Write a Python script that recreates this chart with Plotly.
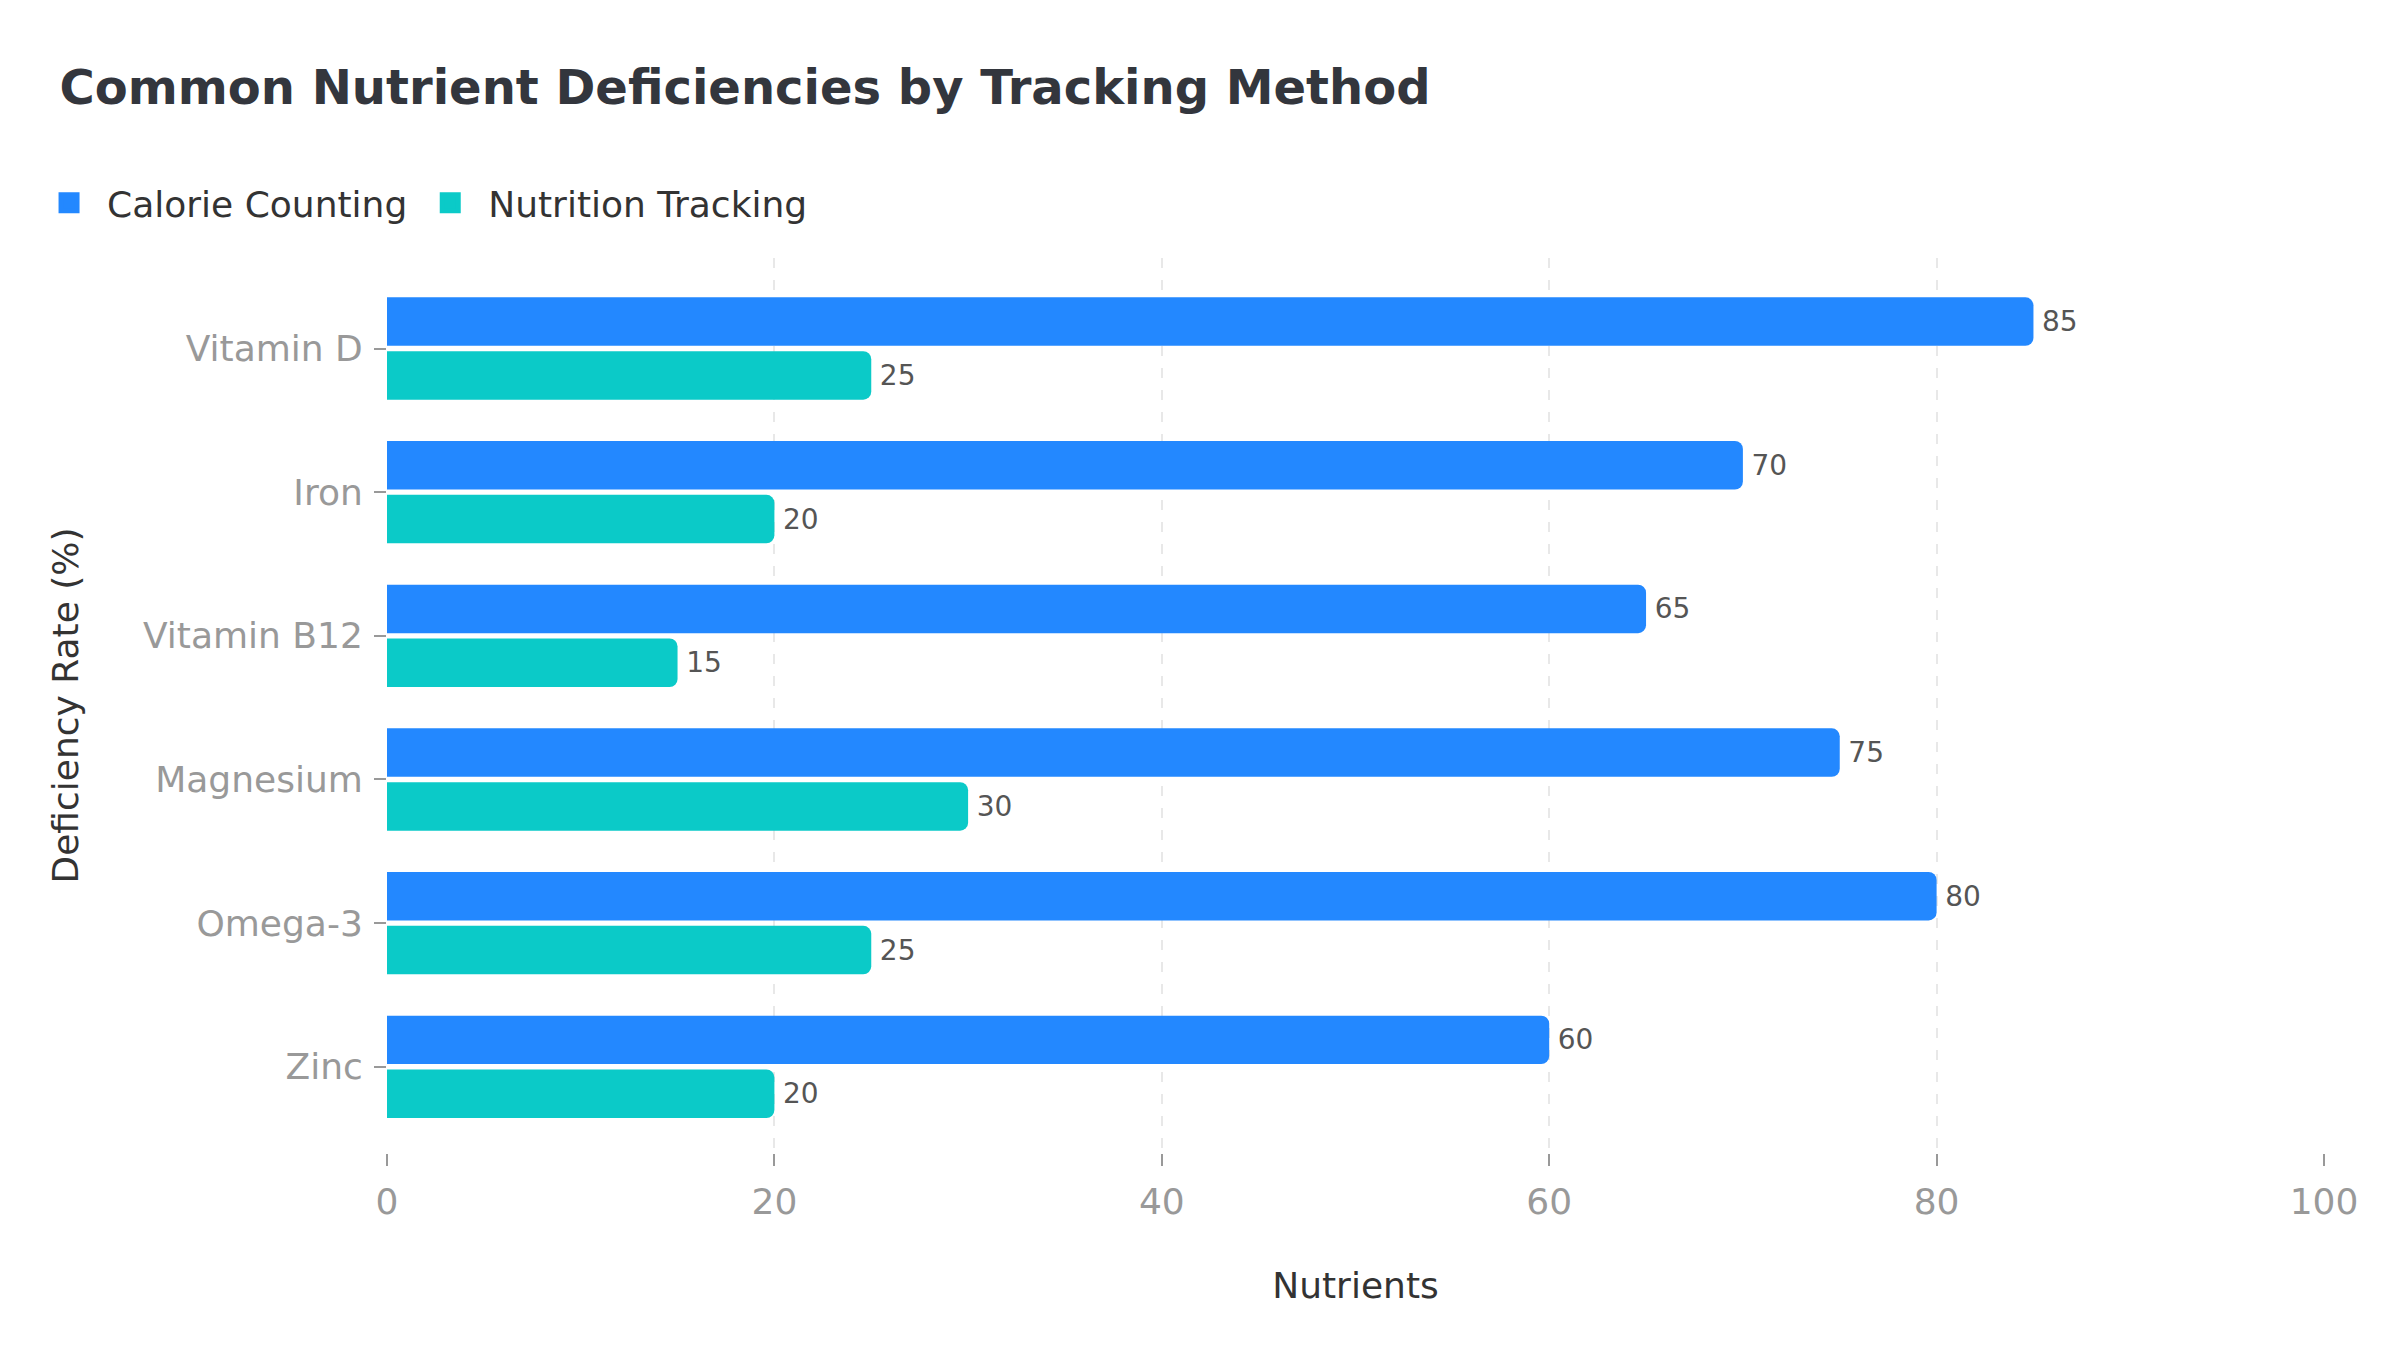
import plotly.graph_objects as go

nutrients = ["Vitamin D", "Iron", "Vitamin B12", "Magnesium", "Omega-3", "Zinc"]
calorie_counting = [85, 70, 65, 75, 80, 60]
nutrition_tracking = [25, 20, 15, 30, 25, 20]
series_names = ["Calorie Counting", "Nutrition Tracking"]
series_colors = ["#2388ff", "#0bcac8"]
x_ticks = [0, 20, 40, 60, 80, 100]

FONT = "DejaVu Sans"

fig = go.Figure()
for name, vals, col in zip(series_names, [calorie_counting, nutrition_tracking], series_colors):
    fig.add_trace(go.Bar(
        y=nutrients, x=vals, name=name, orientation="h",
        legendgroup=name, showlegend=False,
        marker=dict(color=col, line=dict(width=0)),
        text=vals, texttemplate="\u2009%{text}", textposition="outside",
        textfont=dict(family=FONT, size=28, color="#555555"),
        cliponaxis=False,
    ))
# legend entries (square swatches)
for name, col in zip(series_names, series_colors):
    fig.add_trace(go.Scatter(
        x=[None], y=[None], mode="markers", name=name, legendgroup=name,
        marker=dict(symbol="square", size=16, color=col, line=dict(color=col, width=5)),
        hoverinfo="skip",
    ))

fig.update_layout(
    width=2400, height=1350,
    paper_bgcolor="white", plot_bgcolor="white",
    font=dict(family=FONT, size=36, color="#333333"),
    margin=dict(l=379, r=84, t=250, b=205),
    barmode="group", bargap=0.25, bargroupgap=0.1, barcornerradius=8,
    title=dict(text="<b>Common Nutrient Deficiencies by Tracking Method</b>",
               font=dict(family=FONT, size=48, color="#33363d"),
               xref="container", yref="container", x=0.0215, xanchor="left",
               y=0.9414, yanchor="middle"),
    legend=dict(orientation="h", xref="container", yref="container",
                x=0.0096, xanchor="left", y=0.8556, yanchor="middle",
                itemsizing="trace", itemwidth=66,
                font=dict(family=FONT, size=36, color="#333333"),
                bgcolor="rgba(0,0,0,0)"),
    showlegend=True,
)
fig.update_xaxes(
    range=[0, 100], tickvals=x_ticks, ticks="outside", ticklen=12, tickwidth=2,
    tickcolor="#999999", tickfont=dict(family=FONT, size=36, color="#999999"),
    ticklabelstandoff=5,
    showline=False, zeroline=False, showgrid=True, gridcolor="#e8e8e8",
    griddash="10px,12px", gridwidth=2,
    title=dict(text="Nutrients", font=dict(family=FONT, size=36, color="#333333"), standoff=51),
)
fig.update_yaxes(
    type="category", categoryorder="array", categoryarray=nutrients,
    range=[5.6, -0.63], ticks="outside", ticklen=12, tickwidth=2,
    tickcolor="#999999", tickfont=dict(family=FONT, size=36, color="#999999"),
    ticklabelstandoff=4,
    showline=False, zeroline=False, showgrid=False,
    title=dict(text="Deficiency Rate (%)", font=dict(family=FONT, size=36, color="#333333"), standoff=53),
)

fig.write_html("out.html")
